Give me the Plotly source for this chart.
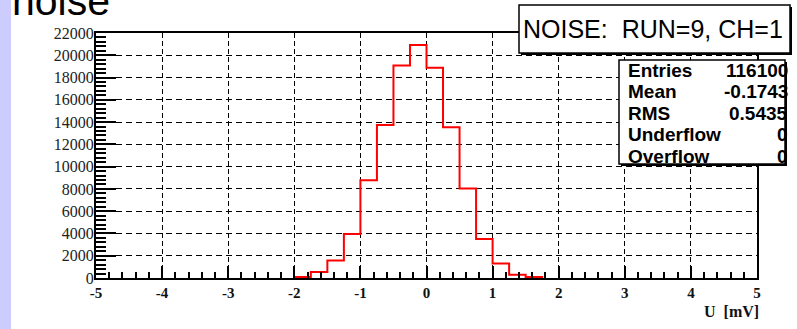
import plotly.graph_objects as go

# ---- data ----
bin_edges = [-2.0, -1.75, -1.5, -1.25, -1.0, -0.75, -0.5, -0.25, 0.0,
             0.25, 0.5, 0.75, 1.0, 1.25, 1.5, 1.75]
counts = [100, 540, 1570, 3960, 8780, 13750, 19080, 20930,
          18870, 13540, 8040, 3510, 1300, 300, 100]
y_ticks = [0, 2000, 4000, 6000, 8000, 10000, 12000, 14000, 16000, 18000, 20000, 22000]
y_labels = ["0", "2000", "4000", "6000", "8000", "10000", "12000", "14000",
            "16000", "18000", "20000", "22000"]
x_ticks = [-5, -4, -3, -2, -1, 0, 1, 2, 3, 4, 5]
x_labels = ["-5", "-4", "-3", "-2", "-1", "0", "1", "2", "3", "4", "5"]
title_text = "NOISE:\u00a0 RUN=9, CH=1"
stat_names = ["Entries", "Mean", "RMS", "Underflow", "Overflow"]
stat_values = ["116100", "-0.1743", "0.5435", "0", "0"]
page_title = "noise"
x_title = "U  [mV]"

# ---- layout helpers (pixel -> paper) ----
W, H = 797, 329
L, R, T, B = 96, 757, 33, 278


def fx(p):
    return (p - L) / (R - L)


def fy(p):
    return (B - p) / (B - T)


# step outline of the histogram: baseline -> bins -> baseline
xs = [bin_edges[0]] + bin_edges + [bin_edges[-1]]
ys = [0] + counts + [counts[-1], 0]

fig = go.Figure()
fig.add_trace(go.Scatter(x=xs, y=ys, mode="lines", line_shape="hv",
                         line=dict(color="#ff0000", width=2), hoverinfo="skip",
                         showlegend=False))

serif = "Liberation Serif"
sans = "Liberation Sans"

fig.update_xaxes(range=[-5, 5], tickmode="array", tickvals=x_ticks, ticktext=x_labels,
                 ticks="inside", ticklen=12, tickcolor="black", tickwidth=1.5,
                 showline=True, linecolor="black", linewidth=2, mirror=True,
                 showgrid=True, gridcolor="black", gridwidth=1, griddash="5px,3px",
                 zeroline=False,
                 tickfont=dict(family=serif, size=15, color="#111", weight="bold"),
                 minor=dict(tickmode="linear", tick0=-5, dtick=0.2, ticks="inside",
                            ticklen=6, tickcolor="black", showgrid=False))
fig.update_yaxes(range=[0, 22000], tickmode="array", tickvals=y_ticks, ticktext=y_labels,
                 ticks="inside", ticklen=20, tickcolor="black", tickwidth=1.5,
                 showline=True, linecolor="black", linewidth=2, mirror=True,
                 showgrid=True, gridcolor="black", gridwidth=1, griddash="6px,4px",
                 zeroline=False, ticklabelstandoff=-3,
                 tickfont=dict(family=serif, size=16, color="#222"),
                 minor=dict(tickmode="linear", tick0=0, dtick=400, ticks="inside",
                            ticklen=10, tickcolor="black", showgrid=False))

shapes = [
    # lavender strip
    dict(type="rect", xref="paper", yref="paper", x0=fx(0), x1=fx(11), y0=fy(H), y1=fy(0),
         fillcolor="#ccccff", line=dict(width=0), layer="below"),
    # stats box shadow + box
    dict(type="rect", xref="paper", yref="paper", x0=fx(621), x1=fx(787), y0=fy(166), y1=fy(62),
         fillcolor="black", line=dict(width=0), layer="above"),
    dict(type="rect", xref="paper", yref="paper", x0=fx(619), x1=fx(785), y0=fy(164), y1=fy(60),
         fillcolor="white", line=dict(color="black", width=1.5), layer="above"),
    # title box shadow + box
    dict(type="rect", xref="paper", yref="paper", x0=fx(521), x1=fx(792), y0=fy(55), y1=fy(7),
         fillcolor="black", line=dict(width=0), layer="above"),
    dict(type="rect", xref="paper", yref="paper", x0=fx(519), x1=fx(790), y0=fy(53), y1=fy(5),
         fillcolor="white", line=dict(color="black", width=1.5), layer="above"),
]

annotations = [
    dict(text=title_text, xref="paper", yref="paper", x=fx(653), y=fy(29),
         xanchor="center", yanchor="middle", showarrow=False,
         font=dict(family=sans, size=25, color="black")),
    dict(text=page_title, xref="paper", yref="paper", x=fx(10), y=fy(1),
         xanchor="left", yanchor="middle", showarrow=False,
         font=dict(family=sans, size=41, color="black")),
    dict(text=x_title, xref="paper", yref="paper", x=fx(761), y=fy(311),
         xanchor="right", yanchor="middle", showarrow=False,
         font=dict(family=serif, size=16, color="#111", weight="bold")),
]
row_y = [70, 91.5, 113, 134.5, 156]
for name, val, ry in zip(stat_names, stat_values, row_y):
    annotations.append(dict(text=name, xref="paper", yref="paper", x=fx(626), y=fy(ry),
                            xanchor="left", yanchor="middle", showarrow=False,
                            font=dict(family=sans, size=19, color="black", weight="bold")))
    annotations.append(dict(text=val, xref="paper", yref="paper", x=fx(790), y=fy(ry),
                            xanchor="right", yanchor="middle", showarrow=False,
                            font=dict(family=sans, size=19, color="black", weight="bold")))

fig.update_layout(width=W, height=H, margin=dict(l=L, r=W - R, t=T, b=H - B),
                  paper_bgcolor="white", plot_bgcolor="white",
                  shapes=shapes, annotations=annotations, showlegend=False)

fig.write_html("out.html", config={"displayModeBar": False})
